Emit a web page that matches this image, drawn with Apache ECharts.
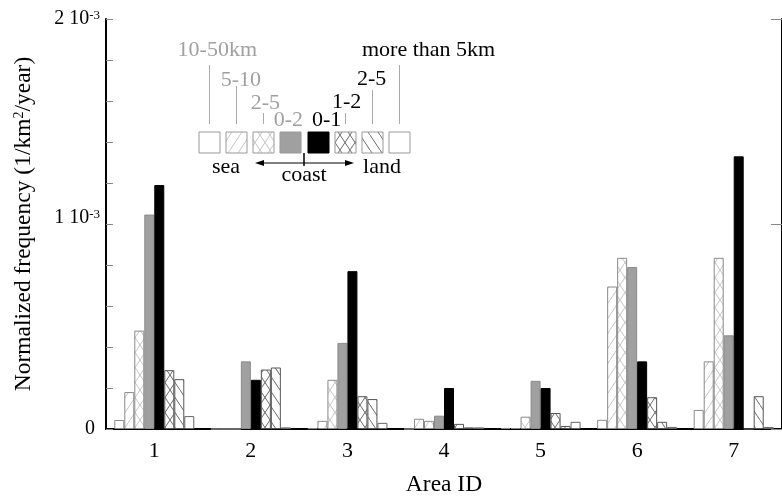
<!DOCTYPE html>
<html>
<head>
<meta charset="utf-8">
<title>Normalized frequency by Area ID</title>
<script src="https://cdn.jsdelivr.net/npm/echarts@6/dist/echarts.min.js"></script>
<style>
  body { margin: 0; background: #fff; }
</style>
</head>
<body>
<div id="main" style="width:782px;height:502px;"></div>
<script>
// data (1/km^2/year)
const areas = ['1', '2', '3', '4', '5', '6', '7'];
const sea10to50 = [0.044e-3, 0, 0.004e-3, 0, 0.005e-3, 0.045e-3, 0.093e-3];
const sea5to10  = [0.18e-3, 0, 0.04e-3, 0.05e-3, 0.005e-3, 0.695e-3, 0.33e-3];
const sea2to5   = [0.48e-3, 0, 0.24e-3, 0.04e-3, 0.06e-3, 0.835e-3, 0.835e-3];
const sea0to2   = [1.046e-3, 0.33e-3, 0.42e-3, 0.065e-3, 0.235e-3, 0.79e-3, 0.457e-3];
const land0to1  = [1.19e-3, 0.24e-3, 0.77e-3, 0.20e-3, 0.20e-3, 0.33e-3, 1.33e-3];
const land1to2  = [0.287e-3, 0.29e-3, 0.16e-3, 0.025e-3, 0.078e-3, 0.155e-3, 0];
const land2to5  = [0.243e-3, 0.30e-3, 0.146e-3, 0.008e-3, 0.015e-3, 0.035e-3, 0.16e-3];
const land5plus = [0.063e-3, 0.008e-3, 0.03e-3, 0.008e-3, 0.035e-3, 0.01e-3, 0.01e-3];

const seaLabels = ['10-50km', '5-10', '2-5', '0-2'];
const landLabels = ['0-1', '1-2', '2-5', 'more than 5km'];

const FONT = "'Liberation Serif', 'Times New Roman', serif";

// hatch fills
function hatch(kind, color) {
    const c = document.createElement('canvas');
    c.width = 10; c.height = 15;
    const g = c.getContext('2d');
    g.fillStyle = '#fff';
    g.fillRect(0, 0, 10, 15);
    g.strokeStyle = color;
    g.lineWidth = 1;
    g.beginPath();
    if (kind.indexOf('/') >= 0) { g.moveTo(0, 15); g.lineTo(10, 0); }
    if (kind.indexOf('\\') >= 0) { g.moveTo(0, 0); g.lineTo(10, 15); }
    g.stroke();
    return { image: c, repeat: 'repeat' };
}

const SEA_LINE = '#c4c4c4', LAND_LINE = '#6a6a6a';
const styles = [
    { color: '#fff', borderColor: '#8a8a8a' },
    { color: hatch('/', SEA_LINE), borderColor: '#8a8a8a' },
    { color: hatch('/\\', SEA_LINE), borderColor: '#8a8a8a' },
    { color: '#a0a0a0', borderColor: '#8a8a8a' },
    { color: '#000', borderColor: '#000' },
    { color: hatch('/\\', LAND_LINE), borderColor: '#555' },
    { color: hatch('\\', LAND_LINE), borderColor: '#555' },
    { color: '#fff', borderColor: '#666' }
];
const seriesData = [sea10to50, sea5to10, sea2to5, sea0to2, land0to1, land1to2, land2to5, land5plus];
const seriesNames = seaLabels.map(s => 'sea ' + s).concat(landLabels.map(s => 'land ' + s));

const series = seriesData.map((d, i) => ({
    name: seriesNames[i],
    type: 'bar',
    data: d,
    barWidth: 10,
    barGap: '0%',
    itemStyle: { color: styles[i].color, borderColor: styles[i].borderColor, borderWidth: 1 }
}));

// legend drawn as a graphic
const boxX = [199, 226, 253, 280, 308, 335, 362, 389];
const g = [];
boxX.forEach((x, i) => {
    g.push({ type: 'rect', shape: { x: x, y: 132, width: 21, height: 21 },
        style: { fill: styles[i].color, stroke: i === 4 ? '#000' : '#999', lineWidth: 1 } });
});
const leaders = [[0, 65], [1, 86], [2, 113], [5, 113], [6, 90], [7, 65]];
leaders.forEach(([i, y0]) => {
    const cx = boxX[i] + 10.5;
    g.push({ type: 'line', shape: { x1: cx, y1: y0, x2: cx, y2: 124 }, style: { stroke: '#aaa', lineWidth: 1 } });
});
const legendText = [
    [seaLabels[0], 257, 50, 'right', '#a0a0a0'],
    [seaLabels[1], 261, 80, 'right', '#a0a0a0'],
    [seaLabels[2], 280, 103, 'right', '#a0a0a0'],
    [seaLabels[3], 303, 120, 'right', '#a0a0a0'],
    [landLabels[0], 312, 120, 'left', '#000'],
    [landLabels[1], 332, 102, 'left', '#000'],
    [landLabels[2], 357, 79, 'left', '#000'],
    [landLabels[3], 362, 50, 'left', '#000']
];
legendText.forEach(([t, x, y, al, col]) => {
    g.push({ type: 'text', x: x, y: y,
        style: { text: t, fill: col, font: '22px ' + FONT, align: al, verticalAlign: 'middle' } });
});
g.push({ type: 'text', x: 226, y: 167.5, style: { text: 'sea', fill: '#000', font: '22px ' + FONT, align: 'center', verticalAlign: 'middle' } });
g.push({ type: 'text', x: 382, y: 167.5, style: { text: 'land', fill: '#000', font: '22px ' + FONT, align: 'center', verticalAlign: 'middle' } });
g.push({ type: 'text', x: 304, y: 175, style: { text: 'coast', fill: '#000', font: '22px ' + FONT, align: 'center', verticalAlign: 'middle' } });
g.push({ type: 'line', shape: { x1: 258, y1: 163, x2: 351, y2: 163 }, style: { stroke: '#000', lineWidth: 1 } });
g.push({ type: 'polygon', shape: { points: [[255, 163], [264, 160], [264, 166]] }, style: { fill: '#000' } });
g.push({ type: 'polygon', shape: { points: [[354, 163], [345, 160], [345, 166]] }, style: { fill: '#000' } });
g.push({ type: 'line', shape: { x1: 304, y1: 153, x2: 304, y2: 166 }, style: { stroke: '#000', lineWidth: 1.5 } });

const near = (a, b) => Math.abs(a - b) < 1e-9;
const richY = {
    z: { fontSize: 20, fontFamily: FONT, color: '#000', padding: [0, 5, 0, 0] },
    m: { fontSize: 20, fontFamily: FONT, color: '#000' },
    m1: { fontSize: 20, fontFamily: FONT, color: '#000', padding: [0, 0, 12, 0] },
    sup: { fontSize: 13, fontFamily: FONT, color: '#000', verticalAlign: 'top' }
};

const chart = echarts.init(document.getElementById('main'));
chart.setOption({
    animation: false,
    backgroundColor: '#fff',
    grid: { left: 106, top: 19, width: 683, height: 412 },
    xAxis: [{
        type: 'category',
        data: areas,
        position: 'bottom',
        axisLine: { lineStyle: { color: '#000', width: 2 } },
        axisTick: { inside: true, length: 11, lineStyle: { color: '#888' } },
        axisLabel: { fontSize: 22, fontFamily: FONT, color: '#000', margin: 11 },
        name: 'Area ID',
        nameLocation: 'middle',
        nameGap: 44,
        nameTextStyle: { fontSize: 23.5, fontFamily: FONT, color: '#000' }
    }, {
        type: 'category',
        data: areas,
        position: 'top',
        axisLine: { lineStyle: { color: '#000', width: 2 } },
        axisTick: { show: false },
        axisLabel: { show: false }
    }],
    yAxis: [{
        type: 'value',
        min: 0,
        max: 0.002,
        interval: 0.0002,
        position: 'left',
        axisLine: { show: true, lineStyle: { color: '#000', width: 2 } },
        axisTick: { show: true, inside: true, length: 7, lineStyle: { color: '#888' } },
        splitLine: { show: false },
        axisLabel: {
            margin: 6,
            rich: richY,
            formatter: v => {
                if (near(v, 0)) return '{z|0}';
                if (near(v, 0.001)) return '{m1|1 10}{sup|-3}';
                if (near(v, 0.002)) return '{m|2 10}{sup|-3}';
                return '';
            }
        },
        name: 'Normalized frequency (1/km{s|2}/year)',
        nameLocation: 'middle',
        nameGap: 70,
        nameTextStyle: {
            fontSize: 23.5, fontFamily: FONT, color: '#000',
            rich: { s: { fontSize: 14, fontFamily: FONT, color: '#000', verticalAlign: 'top' } }
        }
    }, {
        type: 'value',
        min: 0,
        max: 0.002,
        interval: 0.001,
        position: 'right',
        axisLine: { show: true, lineStyle: { color: '#000', width: 2 } },
        axisTick: { show: true, inside: true, length: 11, lineStyle: { color: '#888' } },
        splitLine: { show: false },
        axisLabel: { show: false }
    }],
    series: series,
    graphic: { elements: g }
});
</script>
</body>
</html>
